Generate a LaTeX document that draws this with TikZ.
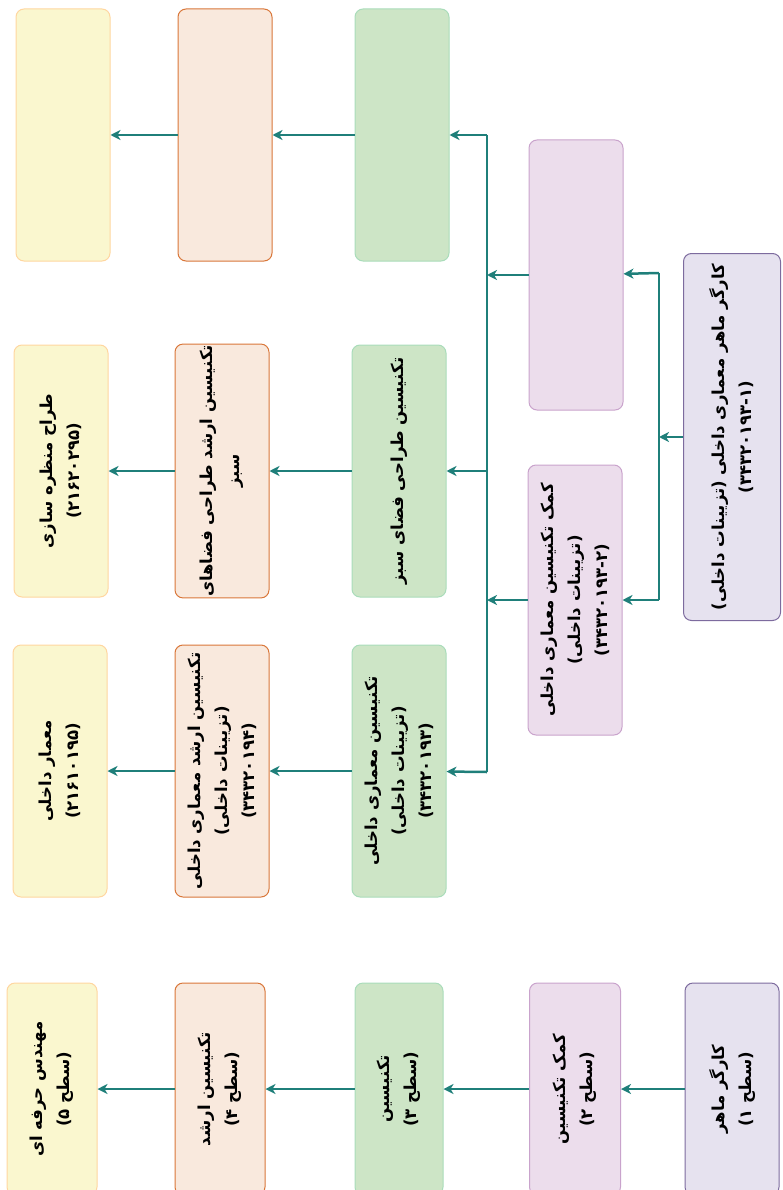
\documentclass[tikz,border=0pt]{standalone}
\usepackage{fontspec}
\newfontfamily\fafont[Script=Arabic]{DejaVu Sans}
\TeXXeTstate=1
\usetikzlibrary{arrows,arrows.meta,positioning}
\definecolor{arrcol}{HTML}{1F7F7A}
\definecolor{ylwfill}{HTML}{FAF7CF}
\definecolor{ylwline}{HTML}{FFD6A0}
\definecolor{orgfill}{HTML}{F9E9DD}
\definecolor{orgline}{HTML}{D9773A}
\definecolor{grnfill}{HTML}{CDE5C6}
\definecolor{grnline}{HTML}{A9DCBA}
\definecolor{pnkfill}{HTML}{ECDDEC}
\definecolor{pnkline}{HTML}{C9A3CC}
\definecolor{gryfill}{HTML}{E6E2EF}
\definecolor{gryline}{HTML}{7D6B9E}
\newcommand{\rtext}[1]{\beginR #1\endR}
\tikzstyle{box} = [rectangle, rounded corners=8pt, rotate=90, line width=1pt, inner xsep=1pt, minimum width=252pt, minimum height=94pt, align=center, font=\fafont\bfseries\fontsize{16.5}{27}\selectfont]
\tikzstyle{ylw} = [box, fill=ylwfill, draw=ylwline]
\tikzstyle{org} = [box, fill=orgfill, draw=orgline]
\tikzstyle{grn} = [box, fill=grnfill, draw=grnline]
\tikzstyle{pnk} = [box, fill=pnkfill, draw=pnkline, minimum width=270pt]
\tikzstyle{gry} = [box, fill=gryfill, draw=gryline]
\tikzstyle{level} = [minimum width=212pt, minimum height=91pt]
\tikzstyle{arrow} = [line width=2.5pt,->,>={Stealth[length=10pt,width=10pt,inset=3pt]}, draw=arrcol]
\tikzstyle{bus} = [line width=2.5pt, draw=arrcol]
\begin{document}
\begin{tikzpicture}[x=1pt, y=-1pt]
\useasboundingbox (0,0) rectangle (783,1190);
\clip (0,0) rectangle (783,1190);

% interior design paths
\node (gray) [gry, minimum width=367pt, minimum height=97pt] at (732,437) {\rtext{کارگر ماهر معماری داخلی (تزیینات داخلی)}\\\rtext{(۳۴۳۲۰۱۹۳-۱)}};
\node (pink1) [pnk] at (576,275) {};
\node (pink2) [pnk] at (575,600) {\rtext{کمک تکنیسین معماری داخلی}\\\rtext{(تزیینات داخلی)}\\\rtext{(۳۴۳۲۰۱۹۳-۲)}};

\node (green1) [grn] at (402,135) {};
\node (orange1) [org] at (225,135) {};
\node (yellow1) [ylw] at (63,135) {};

\node (green2) [grn] at (399,471) {\rtext{تکنیسین طراحی فضای سبز}};
\node (orange2) [org] at (222,471) {\rtext{تکنیسین ارشد طراحی فضاهای}\\\rtext{سبز}};
\node (yellow2) [ylw] at (61,471) {\rtext{طراح منظره سازی}\\\rtext{(۲۱۶۲۰۲۹۵)}};

\node (green3) [grn] at (399,771) {\rtext{تکنیسین معماری داخلی}\\\rtext{(تزیینات داخلی)}\\\rtext{(۳۴۳۲۰۱۹۳)}};
\node (orange3) [org] at (222,771) {\rtext{تکنیسین ارشد معماری داخلی}\\\rtext{(تزیینات داخلی)}\\\rtext{(۳۴۳۲۰۱۹۴)}};
\node (yellow3) [ylw] at (60,771) {\rtext{معمار داخلی}\\\rtext{(۲۱۶۱۰۱۹۵)}};

% levels
\node (lvl1) [gry, level, minimum height=94pt] at (732,1089) {\rtext{کارگر ماهر}\\\rtext{(سطح ۱)}};
\node (lvl2) [pnk, level] at (575,1089) {\rtext{کمک تکنیسین}\\\rtext{(سطح ۲)}};
\node (lvl3) [grn, level, minimum height=88pt] at (399,1089) {\rtext{تکنیسین}\\\rtext{(سطح ۳)}};
\node (lvl4) [org, level, minimum height=90pt] at (220,1089) {\rtext{تکنیسین ارشد}\\\rtext{(سطح ۴)}};
\node (lvl5) [ylw, level, minimum height=90pt] at (52,1089) {\rtext{مهندس حرفه ای}\\\rtext{(سطح ۵)}};

\coordinate (busA1) at (487,135);
\coordinate (busA3) at (487,772);
\coordinate (busB1) at (659,273);
\coordinate (busB2) at (659,600);

\draw [bus] (busA1) -- (busA3);
\draw [bus] (busB1) -- (busB2);

\draw [arrow] (gray) -- (gray -| busB1);
\draw [arrow] (busB1) -- (pink1);
\draw [arrow] (busB2) -- (pink2);

\draw [arrow] (pink1) -- (pink1 -| busA1);
\draw [arrow] (pink2) -- (pink2 -| busA1);

\draw [arrow] (busA1) -- (green1);
\draw [arrow] (green2 -| busA1) -- (green2);
\draw [arrow] (busA3) -- (green3);

\draw [arrow] (green1) -- (orange1);
\draw [arrow] (orange1) -- (yellow1);
\draw [arrow] (green2) -- (orange2);
\draw [arrow] (orange2) -- (yellow2);
\draw [arrow] (green3) -- (orange3);
\draw [arrow] (orange3) -- (yellow3);

\draw [arrow] (lvl1) -- (lvl2);
\draw [arrow] (lvl2) -- (lvl3);
\draw [arrow] (lvl3) -- (lvl4);
\draw [arrow] (lvl4) -- (lvl5);

\end{tikzpicture}
\end{document}
